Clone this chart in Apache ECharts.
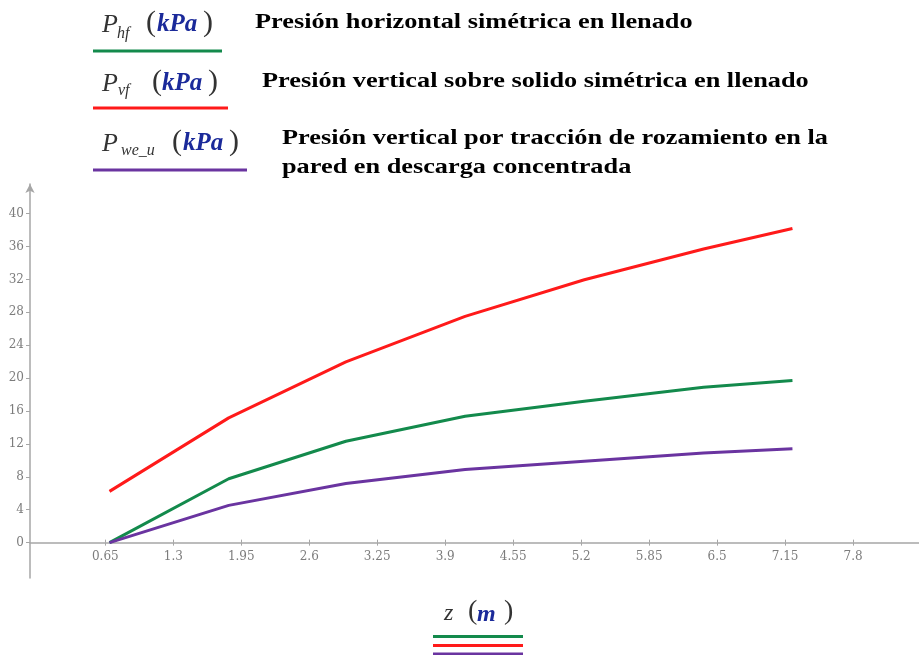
<!DOCTYPE html>
<html>
<head>
<meta charset="utf-8">
<script src="https://cdn.jsdelivr.net/npm/echarts@6/dist/echarts.min.js"></script>
<style>
  html, body { margin: 0; padding: 0; background: #fff; }
  #chart { width: 919px; height: 655px; }
</style>
</head>
<body>
<div id="chart"></div>
<script>
// Depth z (m) at which the pressures are evaluated
const zValues = [0.69, 1.83, 2.95, 4.09, 5.23, 6.37, 7.22];
// Horizontal pressure, symmetric filling (kPa)
const phf = [0, 7.77, 12.33, 15.37, 17.19, 18.89, 19.7];
// Vertical pressure on the solid, symmetric filling (kPa)
const pvf = [6.23, 15.17, 21.97, 27.5, 31.96, 35.7, 38.2];
// Vertical wall-friction pressure, concentrated discharge (kPa)
const pweu = [0, 4.53, 7.2, 8.9, 9.9, 10.9, 11.4];

const xTicks = [0.65, 1.3, 1.95, 2.6, 3.25, 3.9, 4.55, 5.2, 5.85, 6.5, 7.15, 7.8];
const yTicks = [0, 4, 8, 12, 16, 20, 24, 28, 32, 36, 40];

const GREEN = '#138a4c';
const RED = '#ff1a1a';
const PURPLE = '#6a34a0';
const NAVY = '#1b2a9a';
const AXIS = '#a6a6a6';
const LABEL = '#7c7c7c';

const X_MIN = -0.07, X_MAX = 8.43;
const Y_MIN = -4.3, Y_MAX = 43.6;
const GRID = { left: 30, right: 0, top: 184, bottom: 77 };
// pixel distance between the bottom of the plot box and the y = 0 line
const zeroLift = (0 - Y_MIN) / (Y_MAX - Y_MIN) * (655 - GRID.top - GRID.bottom);

const pairs = v => zValues.map((z, i) => [z, v[i]]);

const serif = '"Liberation Serif", "DejaVu Serif", serif';

// one piece of the formula-style legend labels
function t(x, y, text, size, opts) {
  opts = opts || {};
  return {
    type: 'text', left: x, top: y, silent: true,
    scaleX: opts.scaleX || 1,
    style: {
      text: text,
      font: (opts.weight || 'normal') + ' ' + (opts.style || 'normal') + ' ' + size + 'px ' + serif,
      fill: opts.color || '#333',
      textVerticalAlign: 'top'
    }
  };
}
function bar(x1, x2, y, color) {
  return {
    type: 'rect', silent: true,
    shape: { x: x1, y: y - 1.5, width: x2 - x1, height: 3 },
    style: { fill: color }
  };
}
const caption = { weight: 'bold', color: '#000', scaleX: 1.195 };

const graphics = [
  // P_hf (kPa)
  t(102, 12, 'P', 26, { style: 'italic' }),
  t(117, 26, 'hf', 16, { style: 'italic' }),
  t(146, 8, '(', 30),
  t(157, 12, 'kPa', 25, { style: 'italic', weight: 'bold', color: NAVY }),
  t(203, 8, ')', 30),
  bar(93, 222, 51, GREEN),
  t(255, 11, 'Presión horizontal simétrica en llenado', 22, caption),

  // P_vf (kPa)
  t(102, 71, 'P', 26, { style: 'italic' }),
  t(118, 83, 'vf', 16, { style: 'italic' }),
  t(152, 67, '(', 30),
  t(162, 71, 'kPa', 25, { style: 'italic', weight: 'bold', color: NAVY }),
  t(208, 67, ')', 30),
  bar(93, 228, 108, RED),
  t(262, 70, 'Presión vertical sobre solido simétrica en llenado', 22, caption),

  // P_we_u (kPa)
  t(102, 131, 'P', 26, { style: 'italic' }),
  t(121, 143, 'we_u', 16, { style: 'italic' }),
  t(172, 127, '(', 30),
  t(183, 131, 'kPa', 25, { style: 'italic', weight: 'bold', color: NAVY }),
  t(229, 127, ')', 30),
  bar(93, 247, 170, PURPLE),
  t(282, 127, 'Presión vertical por tracción de rozamiento en la', 22, caption),
  t(282, 156, 'pared en descarga concentrada', 22, caption),

  // z (m) axis title with the three series colours underneath
  t(444, 602, 'z', 24, { style: 'italic' }),
  t(468, 598, '(', 28),
  t(477, 603, 'm', 24, { style: 'italic', weight: 'bold', color: NAVY }),
  t(504, 598, ')', 28),
  bar(433, 523, 636.5, GREEN),
  bar(433, 523, 645.5, RED),
  bar(433, 523, 654, PURPLE)
];

const chart = echarts.init(document.getElementById('chart'), null, { renderer: 'canvas' });

const axisLabelFont = { color: LABEL, fontFamily: '"DejaVu Serif", serif', fontSize: 12 };

chart.setOption({
  animation: false,
  backgroundColor: '#fff',
  grid: Object.assign({ containLabel: false }, GRID),
  xAxis: [
    {
      // x-axis drawn along the y = 0 line
      type: 'value', min: X_MIN, max: X_MAX, position: 'bottom', offset: -zeroLift,
      axisLine: { show: true, onZero: false, lineStyle: { color: AXIS, width: 1.5 } },
      axisTick: { show: true, length: 3, customValues: xTicks, lineStyle: { color: AXIS, width: 1 } },
      axisLabel: Object.assign({ customValues: xTicks, margin: 8 }, axisLabelFont),
      splitLine: { show: false }
    },
    {
      // upper half of the x-axis tick marks
      type: 'value', min: X_MIN, max: X_MAX, position: 'bottom', offset: -zeroLift,
      axisLine: { show: false, onZero: false },
      axisTick: { show: true, inside: true, length: 3, customValues: xTicks, lineStyle: { color: AXIS, width: 1 } },
      axisLabel: { show: false },
      splitLine: { show: false }
    }
  ],
  yAxis: {
    type: 'value', min: Y_MIN, max: Y_MAX,
    axisLine: {
      show: true, onZero: false,
      symbol: ['none', 'arrow'], symbolSize: [7, 9], symbolOffset: [0, 0],
      lineStyle: { color: AXIS, width: 1.5 }
    },
    axisTick: { show: true, length: 4, customValues: yTicks, lineStyle: { color: AXIS, width: 1 } },
    axisLabel: Object.assign({ customValues: yTicks, margin: 6 }, axisLabelFont),
    splitLine: { show: false }
  },
  series: [
    { name: 'Phf', type: 'line', data: pairs(phf), showSymbol: false, lineStyle: { color: GREEN, width: 3 }, z: 3 },
    { name: 'Pvf', type: 'line', data: pairs(pvf), showSymbol: false, lineStyle: { color: RED, width: 3 }, z: 3 },
    { name: 'Pwe_u', type: 'line', data: pairs(pweu), showSymbol: false, lineStyle: { color: PURPLE, width: 3 }, z: 3 }
  ],
  graphic: graphics
});
</script>
</body>
</html>
